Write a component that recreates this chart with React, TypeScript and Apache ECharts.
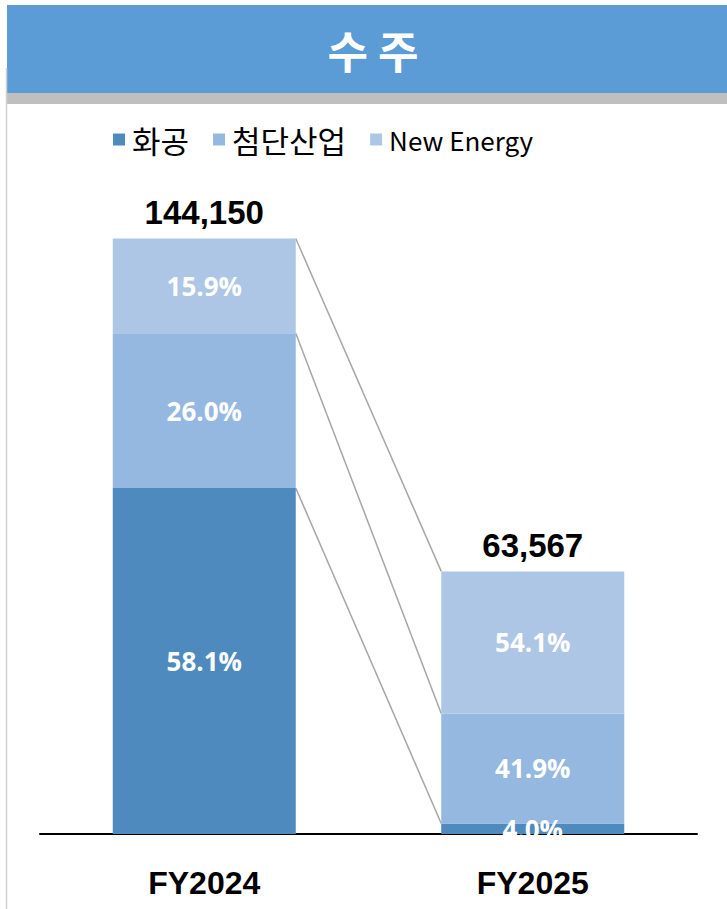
import React, { useEffect, useRef } from "react";
import * as echarts from "echarts";

const categories = ["FY2024", "FY2025"];
const seriesNames = ["화공", "첨단산업", "New Energy"];
const totals = [144150, 63567];
// share (%) per series, per year
const sharePct = {
  hwagong: [58.1, 4.0],
  cheomdan: [26.0, 41.9],
  newEnergy: [15.9, 54.1],
};
const colors = ["#4E8ABE", "#95B8E0", "#ADC6E6"];

const pctArrays = [sharePct.hwagong, sharePct.cheomdan, sharePct.newEnergy];
const values = pctArrays.map((arr) => arr.map((p, i) => (totals[i] * p) / 100));

export default function App() {
  const ref = useRef<HTMLDivElement>(null);
  useEffect(() => {
    if (!ref.current) return;
    const chart = echarts.init(ref.current, null, { renderer: "svg" });
    const barWidth = 183;
    const cum = categories.map((_, ci) => {
      let s = 0;
      return values.map((v) => (s += v[ci]));
    });
    const connectorData = seriesNames.map((_, si) => [si, cum[0][si], cum[1][si]]);

    const barSeries = seriesNames.map((name, si) => ({
      name,
      type: "bar",
      stack: "total",
      barWidth,
      data: values[si],
      itemStyle: { color: colors[si] },
      label: {
        show: true,
        position: "inside",
        color: "#FFFFFF",
        fontFamily: "Open Sans",
        fontWeight: "bold",
        fontSize: 26,
        formatter: (p: any) => pctArrays[si][p.dataIndex].toFixed(1) + "%",
      },
    }));

    chart.setOption({
      animation: false,
      backgroundColor: "#FFFFFF",
      graphic: [
        { type: "rect", shape: { x: 7, y: 5, width: 720, height: 88 }, style: { fill: "#5B9BD6" } },
        { type: "rect", shape: { x: 7, y: 93, width: 720, height: 11 }, style: { fill: "#BFBFBF" } },
        { type: "line", shape: { x1: 6.5, y1: 68, x2: 6.5, y2: 909 }, style: { stroke: "#D0D0D0", lineWidth: 1.5 } },
        {
          type: "text",
          x: 373,
          y: 50,
          style: {
            text: "수 주",
            fill: "#FFFFFF",
            font: "bold 44px 'Noto Sans CJK KR'",
            align: "center",
            verticalAlign: "middle",
          },
        },
      ],
      legend: {
        data: seriesNames,
        left: 108,
        top: 119,
        icon: "rect",
        itemWidth: 12,
        itemHeight: 12,
        itemGap: 24,
        formatter: (name: string) =>
          /[가-힣]/.test(name) ? `{ko|${name}}` : `{en|${name}}`,
        textStyle: {
          color: "#000000",
          rich: {
            ko: { fontFamily: "Noto Sans CJK KR", fontSize: 31, color: "#000000", padding: [0, 0, 0, 2] },
            en: { fontFamily: "Noto Sans CJK KR", fontSize: 26, color: "#000000", padding: [0, 0, 0, 2] },
          },
        },
      },
      grid: { left: 40, right: 30, top: 173, bottom: 75 },
      xAxis: {
        type: "category",
        data: categories,
        axisLine: { show: true, lineStyle: { color: "#000000", width: 2 } },
        axisTick: { show: false },
        axisLabel: {
          margin: 33,
          color: "#000000",
          fontFamily: "Liberation Sans",
          fontWeight: "bold",
          fontSize: 32,
        },
      },
      yAxis: { type: "value", min: 0, max: 160000, show: false, splitLine: { show: false } },
      series: [
        ...barSeries,
        {
          name: "total",
          type: "bar",
          stack: "total",
          barWidth,
          data: totals.map(() => 0),
          itemStyle: { color: "transparent" },
          label: {
            show: true,
            position: "top",
            distance: 9,
            color: "#000000",
            fontFamily: "Liberation Sans",
            fontWeight: "bold",
            fontSize: 33,
            formatter: (p: any) => totals[p.dataIndex].toLocaleString("en-US"),
          },
        },
        {
          name: "connectors",
          type: "custom",
          data: connectorData,
          z: 1,
          renderItem: (params: any, api: any) => {
            const p0 = api.coord([0, api.value(1)]);
            const p1 = api.coord([1, api.value(2)]);
            return {
              type: "line",
              shape: { x1: p0[0] + barWidth / 2, y1: p0[1], x2: p1[0] - barWidth / 2, y2: p1[1] },
              style: { stroke: "#A6A6A6", lineWidth: 1.5 },
            };
          },
        },
      ],
    });
    return () => chart.dispose();
  }, []);
  return (
    <div
      ref={ref}
      style={{ position: "fixed", left: 0, top: 0, width: 727, height: 909 }}
    />
  );
}
